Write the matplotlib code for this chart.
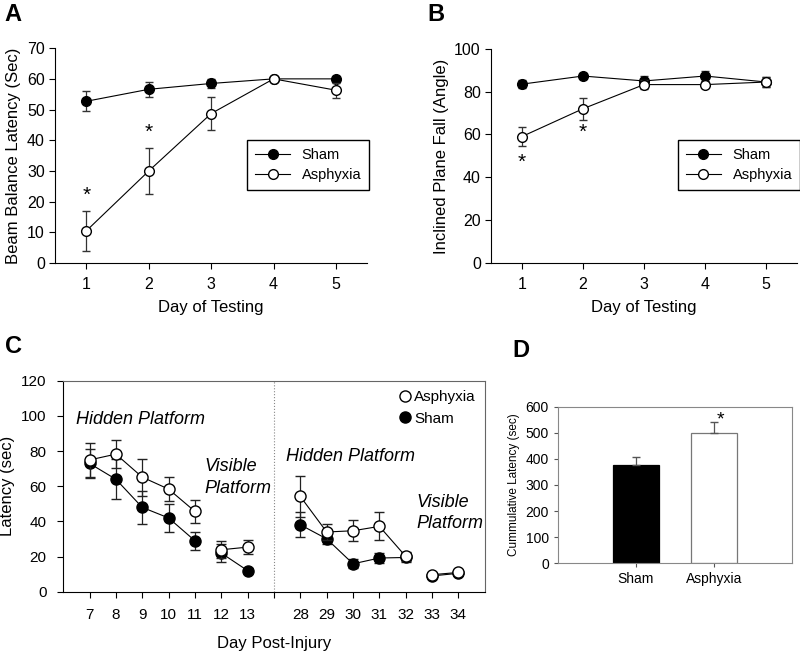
import numpy as np
import matplotlib.pyplot as plt
from matplotlib.lines import Line2D

plt.rcParams['font.family'] = ['Liberation Sans', 'DejaVu Sans']

# Panel A - beam balance
days = [1, 2, 3, 4, 5]
a_sham = [52.7, 56.6, 58.5, 60.0, 60.0]
a_sham_err = [3.2, 2.4, 1.5, 0.0, 0.8]
a_asph = [10.5, 30.0, 48.7, 60.0, 56.3]
a_asph_err = [6.5, 7.5, 5.5, 0.0, 2.5]

# Panel B - inclined plane
b_sham = [83.5, 87.3, 85.0, 87.3, 84.5]
b_sham_err = [2.0, 1.5, 2.5, 2.5, 2.5]
b_asph = [59.0, 72.0, 83.3, 83.3, 84.5]
b_asph_err = [4.5, 5.0, 2.0, 1.5, 2.5]

# Panel C - water maze
c_days1 = ['7', '8', '9', '10', '11', '12', '13']
c_days2 = ['28', '29', '30', '31', '32', '33', '34']
c_asph1 = [75.0, 78.3, 65.2, 58.4, 45.7, 23.9, 25.4]
c_asph1_err = [9.5, 8.0, 10.5, 7.0, 6.5, 4.7, 4.2]
c_sham1 = [73.0, 64.0, 48.0, 42.0, 29.0, 22.0, 12.0]
c_sham1_err = [8.0, 11.5, 9.5, 8.0, 5.0, 5.3, 1.5]
c_asph2 = [54.2, 34.0, 34.7, 37.2, 20.1, 9.7, 11.0]
c_asph2_err = [11.4, 4.5, 6.0, 8.0, 2.5, 1.0, 1.0]
c_sham2 = [38.1, 30.1, 15.9, 19.2, 19.5, 9.0, 10.5]
c_sham2_err = [7.2, 3.0, 2.5, 3.0, 2.5, 1.0, 1.0]

# Panel D - cumulative latency
d_groups = ['Sham', 'Asphyxia']
d_vals = [378, 500]
d_err = [28, 41]

fig = plt.figure(figsize=(8, 6.51), dpi=100)

def line_panel(ax, sham, sham_err, asph, asph_err, ymax, ystep, ylabel, stars):
    ax.errorbar(days, sham, yerr=sham_err, color='black', lw=0.8, marker='o',
                ms=7, mfc='black', mec='black', ecolor='#333333', elinewidth=0.9,
                capsize=3, zorder=3)
    ax.errorbar(days, asph, yerr=asph_err, color='black', lw=0.8, marker='o',
                ms=7, mfc='white', mec='black', ecolor='#333333', elinewidth=0.9,
                capsize=3, zorder=4)
    for x, y in stars:
        ax.text(x, y, '*', ha='center', va='center', fontsize=15)
    ax.set_xlim(0.5, 5.5)
    ax.set_ylim(0, ymax)
    ax.set_xticks(days)
    ax.set_yticks(np.arange(0, ymax + 1, ystep))
    ax.spines['top'].set_visible(False)
    ax.spines['right'].set_visible(False)
    ax.tick_params(labelsize=11.5, direction='out', length=4)
    ax.tick_params(axis='x', pad=6)
    ax.set_xlabel('Day of Testing', fontsize=12, labelpad=6)
    ax.set_ylabel(ylabel, fontsize=12)
    hs = [Line2D([], [], color='black', lw=0.8, marker='o', ms=7, mfc='black', mec='black'),
          Line2D([], [], color='black', lw=0.8, marker='o', ms=7, mfc='white', mec='black')]
    return hs

axA = fig.add_axes([0.069, 0.596, 0.39, 0.330])
hs = line_panel(axA, a_sham, a_sham_err, a_asph, a_asph_err, 70, 10,
                'Beam Balance Latency (Sec)', [(1, 22), (2, 42.5)])
axA.legend(hs, ['Sham', 'Asphyxia'], loc='upper left', bbox_to_anchor=(0.615, 0.572),
           borderaxespad=0, fancybox=False, edgecolor='black', fontsize=10.5,
           handlelength=2.4, framealpha=1, borderpad=0.55, labelspacing=0.4)

axB = fig.add_axes([0.614, 0.596, 0.382, 0.329])
hs = line_panel(axB, b_sham, b_sham_err, b_asph, b_asph_err, 100, 20,
                'Inclined Plane Fall (Angle)', [(1, 47), (2, 61)])
axB.legend(hs, ['Sham', 'Asphyxia'], loc='upper left', bbox_to_anchor=(0.611, 0.575),
           borderaxespad=0, fancybox=False, edgecolor='black', fontsize=10.5,
           handlelength=2.4, framealpha=1, borderpad=0.55, labelspacing=0.4)

# Panel C
axC = fig.add_axes([0.079, 0.091, 0.527, 0.324])
x1 = np.arange(7)
x2 = np.arange(8, 15)
for xs, asph, aerr, sham, serr in [(x1, c_asph1, c_asph1_err, c_sham1, c_sham1_err),
                                   (x2, c_asph2, c_asph2_err, c_sham2, c_sham2_err)]:
    for seg in [slice(0, 5), slice(5, 7)]:
        axC.errorbar(xs[seg], sham[seg], yerr=serr[seg], color='black', lw=0.8,
                     marker='o', ms=8, mfc='black', mec='black', ecolor='#222222',
                     elinewidth=0.9, capsize=3.5, zorder=3)
        axC.errorbar(xs[seg], asph[seg], yerr=aerr[seg], color='black', lw=0.8,
                     marker='o', ms=8, mfc='white', mec='black', ecolor='#222222',
                     elinewidth=0.9, capsize=3.5, zorder=4)
axC.axvline(7, color='#888888', lw=0.8, ls=':')
axC.set_xlim(-1, 15)
axC.set_ylim(0, 120)
axC.set_yticks(np.arange(0, 121, 20))
axC.set_xticks(list(x1) + [7] + list(x2))
axC.set_xticklabels(c_days1 + [''] + c_days2)
axC.tick_params(labelsize=11, direction='out', length=4, pad=8)
for s in ['top', 'right']:
    axC.spines[s].set_color('#666666')
axC.set_ylabel('Latency (sec)', fontsize=12)
axC.set_xlabel('Day Post-Injury', fontsize=12, labelpad=10)
axC.text(-0.5, 98, 'Hidden Platform', style='italic', fontsize=13, va='center')
axC.text(4.35, 71, 'Visible', style='italic', fontsize=13, va='center')
axC.text(4.35, 59, 'Platform', style='italic', fontsize=13, va='center')
axC.text(7.45, 77, 'Hidden Platform', style='italic', fontsize=13, va='center')
axC.text(12.4, 51, 'Visible', style='italic', fontsize=13, va='center')
axC.text(12.4, 39, 'Platform', style='italic', fontsize=13, va='center')
handles = [Line2D([], [], ls='none', marker='o', ms=8, mfc='white', mec='black'),
           Line2D([], [], ls='none', marker='o', ms=8, mfc='black', mec='black')]
axC.legend(handles, ['Asphyxia', 'Sham'], loc='upper right', frameon=False,
           fontsize=11, handlelength=0.8, handletextpad=0.2, borderaxespad=0.2,
           labelspacing=0.5)

# Panel D
axD = fig.add_axes([0.6975, 0.135, 0.2925, 0.24])
xd = np.arange(len(d_groups))
axD.bar(xd, d_vals, width=0.59, color=['black', 'white'],
        edgecolor=['black', '#777777'], lw=0.9)
axD.errorbar(xd, d_vals, yerr=[[0, 0], d_err], fmt='none', ecolor='#555555',
             elinewidth=0.9, capsize=3)
axD.text(1.08, 548, '*', ha='center', va='center', fontsize=14)
axD.set_xlim(-1, 2)
axD.set_ylim(0, 600)
axD.set_yticks(np.arange(0, 601, 100))
axD.set_xticks(xd)
axD.set_xticklabels(d_groups)
for s in axD.spines.values():
    s.set_color('#888888')
axD.tick_params(labelsize=10, direction='out', length=3, color='#555555')
axD.set_ylabel('Cummulative Latency (sec)', fontsize=8.5)

for lbl, x, y in [('A', 0.006, 0.978), ('B', 0.534, 0.978),
                  ('C', 0.006, 0.467), ('D', 0.641, 0.462)]:
    fig.text(x, y, lbl, fontsize=17, fontweight='bold', va='center')

fig.savefig('out.png', dpi=100)
